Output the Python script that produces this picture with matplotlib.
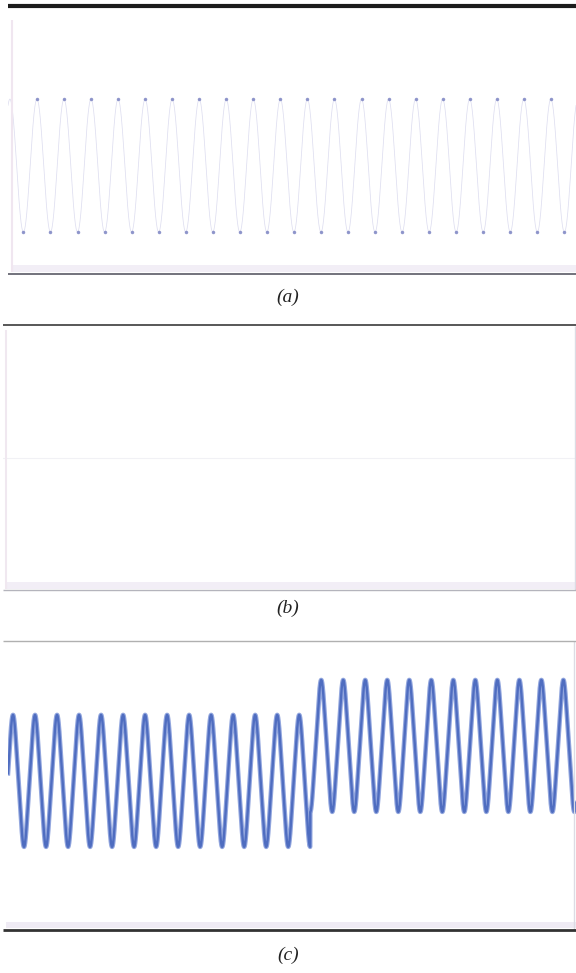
import numpy as np
import matplotlib
matplotlib.use('Agg')
import matplotlib.pyplot as plt
from matplotlib.lines import Line2D
from matplotlib.patches import Rectangle

# ---------------- data ----------------
freq_hz = 50.0                 # fundamental frequency
# panel (a): steady sinusoid
a_time_span = 0.42             # s shown
a_amplitude = 1.0
a_first_peak = 0.0014          # s
a_ylim = (-1.63, 2.40)
# panel (b): empty trace (zero)
b_level = 0.0
b_ylim = (-1.0, 1.0)
# panel (c): sinusoid with a step in its DC level
c_time_span = 0.516
c_first_peak = 0.00455
c_step_time = 0.2745
c_levels = [0.0, 0.53]         # DC level before / after the step
c_amplitudes = [1.0, 1.0]
c_third_harmonic = 0.05        # slightly sharper crests
c_ylim = (-2.26, 2.12)
captions = ["(a)", "(b)", "(c)"]

# ---------------- figure ----------------
W, H = 576, 973
fig = plt.figure(figsize=(W / 100, H / 100), dpi=100)
fig.patch.set_facecolor('white')


def ax_at(x0, y0, x1, y1):
    a = fig.add_axes([x0 / W, 1 - y1 / H, (x1 - x0) / W, (y1 - y0) / H])
    a.set_axis_off()
    return a


def fx(x):
    return x / W


def fy(y):
    return 1 - y / H


def hline(y, x0, x1, color, lw):
    fig.add_artist(Line2D([fx(x0), fx(x1)], [fy(y), fy(y)], color=color,
                          lw=lw, transform=fig.transFigure, solid_capstyle='butt'))


def vline(x, y0, y1, color, lw):
    fig.add_artist(Line2D([fx(x), fx(x)], [fy(y0), fy(y1)], color=color,
                          lw=lw, transform=fig.transFigure, solid_capstyle='butt'))


def band(x0, y0, x1, y1, color):
    fig.add_artist(Rectangle((fx(x0), fy(y1)), fx(x1) - fx(x0), fy(y0) - fy(y1),
                             color=color, lw=0, transform=fig.transFigure))


period = 1.0 / freq_hz

# ---------- panel (a) ----------
axa = ax_at(8, 6, 576, 274)
ta = np.linspace(0, a_time_span, 6000)
ya = a_amplitude * np.cos(2 * np.pi * freq_hz * (ta - a_first_peak))
axa.plot(ta, ya, color='#dedef0', lw=0.55)
pk = np.arange(a_first_peak, a_time_span, period)
tr = np.arange(a_first_peak + period / 2, a_time_span, period)
pk = pk[pk > 0.004]
axa.plot(pk, np.full(pk.size, a_amplitude), ls='none', marker='o', ms=2.5,
         mew=0, color='#7c84c2', alpha=0.85)
axa.plot(tr, np.full(tr.size, -a_amplitude), ls='none', marker='o', ms=2.5,
         mew=0, color='#7c84c2', alpha=0.85)
axa.set_xlim(0, a_time_span)
axa.set_ylim(*a_ylim)

band(12, 265, 576, 272, '#f2eef6')
vline(12, 20, 272, '#f0e6f0', 1.5)
hline(6, 8, 576, '#1c1c1c', 3.0)
hline(274, 8, 576, '#5a5a66', 1.2)

# ---------- panel (b) ----------
axb = ax_at(3, 326, 576, 590)
tb = np.linspace(0, c_time_span, 50)
axb.plot(tb, np.full(tb.size, b_level), color='#f1f1f5', lw=0.8)
axb.set_xlim(0, c_time_span)
axb.set_ylim(*b_ylim)

band(6, 582, 576, 589, '#f2eef6')
vline(6, 330, 589, '#f0e8f0', 1.5)
vline(575, 326, 590, '#dcdce4', 1.0)
hline(325, 3, 576, '#4a4a4a', 1.3)
hline(590, 3, 576, '#b4b4bc', 1.0)

# ---------- panel (c) ----------
axc = ax_at(8, 641, 576, 930)
tc = np.linspace(0, c_time_span, 8000)
th = 2 * np.pi * freq_hz * (tc - c_first_peak)
shape = (np.cos(th) + c_third_harmonic * np.cos(3 * th)) / (1 + c_third_harmonic)
after = tc >= c_step_time
level = np.where(after, c_levels[1], c_levels[0])
amp = np.where(after, c_amplitudes[1], c_amplitudes[0])
yc = level + amp * shape
axc.plot(tc, yc, color='#92a6de', lw=3.3, solid_joinstyle='round')
axc.plot(tc, yc, color='#4f6dc0', lw=1.7, solid_joinstyle='round')
axc.set_xlim(0, c_time_span)
axc.set_ylim(*c_ylim)

band(6, 922, 576, 928, '#efebf4')
vline(574, 641, 930, '#dcdce4', 1.0)
hline(641, 3, 576, '#b0b0b0', 1.0)
hline(930, 3, 576, '#333333', 2.0)

# ---------- captions ----------
for cap, y in zip(captions, [297, 608, 955]):
    fig.text(fx(288), fy(y), cap, ha='center', va='center', fontsize=14,
             family='Liberation Serif', style='italic', color='#222222')

fig.savefig('out.png', dpi=100, facecolor='white')
